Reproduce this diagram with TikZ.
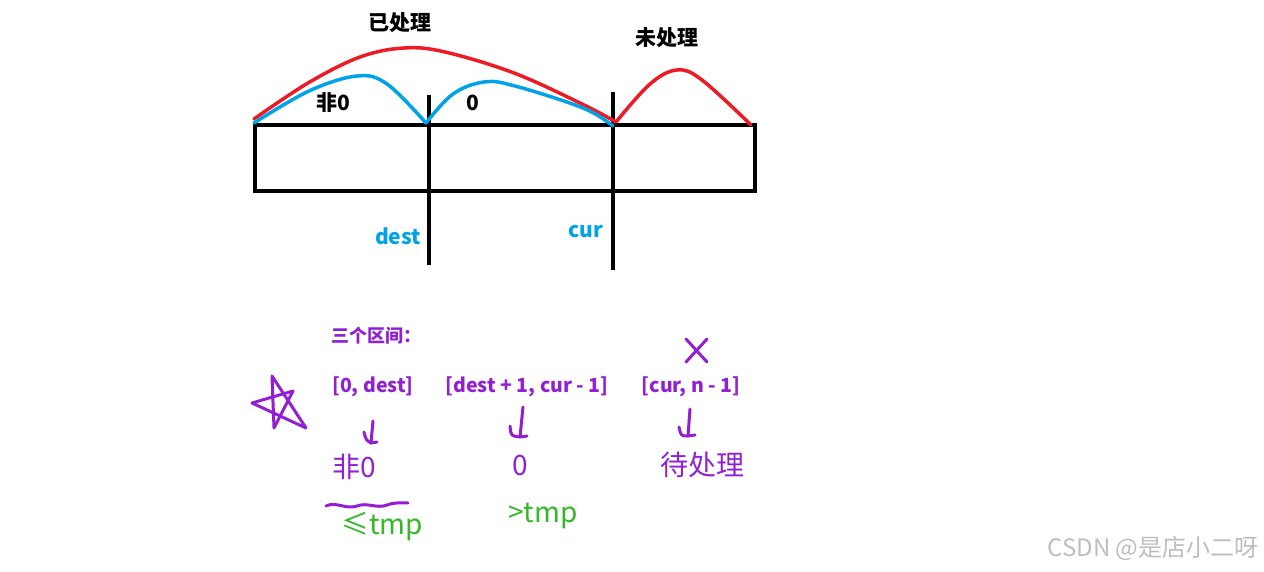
\documentclass[tikz,border=0pt]{standalone}
\usepackage{fontspec}
\newfontfamily\cjk{Noto Sans CJK SC}
\definecolor{cred}{RGB}{237,28,36}
\definecolor{cblue}{RGB}{0,162,232}
\definecolor{cpurple}{RGB}{146,32,210}
\definecolor{cgreen}{RGB}{52,184,40}
\definecolor{cgray}{RGB}{190,190,190}
\tikzset{
  blk/.style={line width=4pt,black},
  redc/.style={line width=3.5pt,cred,line join=round,line cap=round},
  bluec/.style={line width=3.5pt,cblue,line join=round,line cap=round},
  lbl/.style={font=\cjk\bfseries\fontsize{21}{24}\selectfont,inner sep=0pt},
  blbl/.style={lbl,text=cblue},
  plbl/.style={font=\cjk\bfseries\fontsize{19.5}{22}\selectfont,text=cpurple,inner sep=0pt},
  hand/.style={font=\cjk\fontsize{28}{32}\selectfont,text=cpurple,inner sep=0pt},
  ghand/.style={font=\cjk\fontsize{28}{32}\selectfont,text=cgreen,inner sep=0pt},
  pen/.style={line width=3pt,cpurple,line cap=round,line join=round},
}
\begin{document}
\begin{tikzpicture}[x=1pt,y=-1pt]
\useasboundingbox (0,0) rectangle (1264,572);
% array box
\node[draw,blk,minimum width=500pt,minimum height=66pt,inner sep=0pt,anchor=north west] (arr) at (253,123) {};
\coordinate (dtop) at (429,95);
\coordinate (dbot) at (429,265);
\coordinate (ctop) at (613,92);
\coordinate (cbot) at (613,270);
\draw[blk] (dtop) -- (dbot);
\draw[blk] (ctop) -- (cbot);
% curves
\draw[redc] plot[smooth,tension=0.6] coordinates {(254,119) (308,83) (360,57) (404,48) (445,52) (514,73) (582,104) (616,122)};
\draw[redc] plot[smooth,tension=0.6] coordinates {(616,122) (650,84) (677,70) (702,80) (751,125)};
\draw[bluec] plot[smooth,tension=0.6] coordinates {(254,123) (309,91) (357,76) (387,84) (426,123)};
\draw[bluec] plot[smooth,tension=0.6] coordinates {(426,123) (453,94) (484,82) (515,86) (583,108) (613,126)};
% top labels
\node[lbl] (done) at (400,23) {已处理};
\node[lbl] (todo) at (667,38) {未处理};
\node[lbl] (nz) at (333,103) {非0};
\node[lbl] (z) at (473,103) {0};
\node[blbl] (dest) at (398,236) {dest};
\node[blbl] (cur) at (586,232) {cur};
% bottom
\node[font=\cjk\bfseries\fontsize{18}{22}\selectfont,text=cpurple,inner sep=0pt] (three) at (376,336) {三个区间：};
\node[plbl] (r1) at (373,387) {[0, dest]};
\node[plbl] (r2) at (527,387) {[dest + 1, cur - 1]};
\node[plbl] (r3) at (691,387) {[cur, n - 1]};
% star
\coordinate (s1) at (272,376);
\coordinate (s2) at (306,428);
\coordinate (s3) at (252,403);
\coordinate (s4) at (293,391);
\coordinate (s5) at (274,428);
\draw[pen] (s1) -- (s2) -- (s3) -- (s4) -- (s5) -- cycle;
% X
\coordinate (x1) at (686,339);
\coordinate (x2) at (707,362);
\coordinate (x3) at (707,339);
\coordinate (x4) at (686,362);
\draw[pen] (x1) -- (x2);
\draw[pen] (x3) -- (x4);
% handwritten arrows
\coordinate (a1t) at (373,421);
\coordinate (a1b) at (371,443);
\draw[pen] (a1t) -- (a1b);
\draw[pen] (364,432) .. controls (366,440) .. (a1b) -- (377,442);
\coordinate (a2t) at (523,407);
\coordinate (a2b) at (520,437);
\draw[pen] (a2t) -- (a2b);
\draw[pen] (510,426) .. controls (511,436) .. (a2b) -- (527,436);
\coordinate (a3t) at (690,409);
\coordinate (a3b) at (688,436);
\draw[pen] (a3t) -- (a3b);
\draw[pen] (679,427) .. controls (681,436) .. (a3b) -- (695,435);
% handwritten results
\node[hand] (h1) at (354,467) {非0};
\node[hand] (h2) at (520,466) {0};
\node[hand] (h3) at (702,465) {待处理};
\draw[pen] (326,506) .. controls (336,501) and (346,510) .. (357,506) .. controls (367,502) and (377,509) .. (387,505) .. controls (395,502) and (402,503) .. (408,503);
\node[ghand] (g1) at (382,527) {≤tmp};
\node[ghand] (g2) at (543,516) {>tmp};
% watermark
\node[font=\cjk\fontsize{24}{28}\selectfont,text=cgray,inner sep=0pt] (wm) at (1153,549) {CSDN @是店小二呀};
\end{tikzpicture}
\end{document}
